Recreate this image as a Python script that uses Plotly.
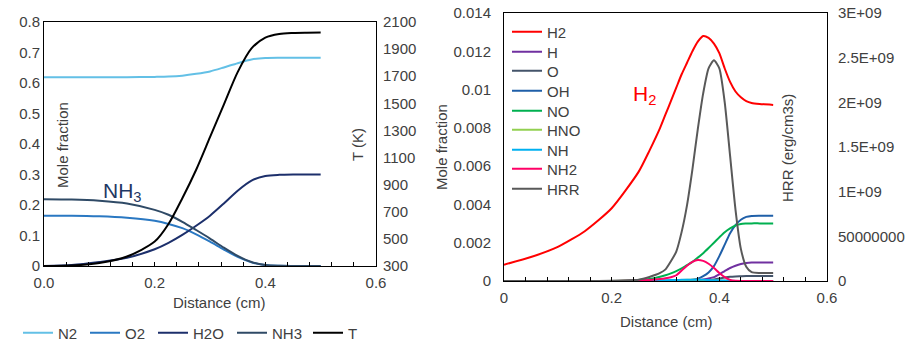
import plotly.graph_objects as go

# ---------------- Left chart data ----------------
dist_left = [0, 0.05, 0.1, 0.15, 0.2, 0.225, 0.25, 0.275, 0.3, 0.325, 0.35, 0.375, 0.4, 0.425, 0.45, 0.475, 0.5]
n2 = [0.619, 0.619, 0.619, 0.619, 0.620, 0.621, 0.624, 0.630, 0.638, 0.651, 0.665, 0.677, 0.682, 0.683, 0.683, 0.683, 0.683]
o2 = [0.165, 0.165, 0.163, 0.158, 0.148, 0.138, 0.124, 0.104, 0.080, 0.054, 0.030, 0.012, 0.003, 0.0005, 0.0, 0.0, 0.0]
h2o = [0.0, 0.003, 0.013, 0.027, 0.055, 0.076, 0.102, 0.132, 0.165, 0.205, 0.247, 0.280, 0.295, 0.299, 0.300, 0.300, 0.300]
nh3 = [0.219, 0.218, 0.214, 0.205, 0.184, 0.168, 0.145, 0.118, 0.090, 0.060, 0.033, 0.013, 0.003, 0.0005, 0.0, 0.0, 0.0]
temp = [300, 303, 322, 370, 480, 610, 800, 1010, 1250, 1490, 1730, 1905, 1985, 2012, 2019, 2021, 2022]

# ---------------- Right chart data ----------------
dist_right = [0, 0.05, 0.1, 0.15, 0.2, 0.25, 0.27, 0.29, 0.3, 0.31, 0.32, 0.33, 0.34, 0.35, 0.36, 0.37,
              0.38, 0.39, 0.4, 0.41, 0.42, 0.43, 0.44, 0.45, 0.46, 0.475, 0.5]
h2 = [0.00085, 0.00125, 0.00178, 0.0026, 0.0038, 0.0057, 0.0068, 0.0080, 0.0087, 0.0094, 0.0101, 0.0108, 0.0114,
      0.0120, 0.0125, 0.0128, 0.0127, 0.0124, 0.0119, 0.0111, 0.0104, 0.0099, 0.0096, 0.0094, 0.0093, 0.00925, 0.0092]
h_rad = [0, 0, 0, 0, 0, 0, 0, 0, 0, 0, 0, 0, 0.00001, 0.00002, 0.00004, 0.00008,
         0.00013, 0.0002, 0.00035, 0.00052, 0.00068, 0.0008, 0.00089, 0.00094, 0.00096, 0.00096, 0.00096]
o_rad = [0, 0, 0, 0, 0, 0, 0, 0, 0, 0, 0, 0, 0, 0, 0.00001, 0.00002,
         0.00004, 0.00008, 0.00013, 0.00018, 0.00022, 0.00024, 0.00025, 0.00026, 0.00026, 0.00026, 0.00026]
oh = [0, 0, 0, 0, 0, 0, 0, 0, 0, 0, 0, 0.00001, 0.00003, 0.00006, 0.00012, 0.00025,
      0.00045, 0.00078, 0.0013, 0.0019, 0.0025, 0.00292, 0.0032, 0.00335, 0.0034, 0.00341, 0.00341]
no = [0, 0, 0, 0, 0, 0.00005, 0.0001, 0.00022, 0.0003, 0.0004, 0.00052, 0.00066, 0.00083, 0.001, 0.00122, 0.00145,
      0.00172, 0.002, 0.00228, 0.00255, 0.00275, 0.0029, 0.00298, 0.003, 0.00301, 0.00301, 0.00301]
hno = [0, 0, 0, 0, 0, 0, 0, 0.00001, 0.00002, 0.00003, 0.00004, 0.00005, 0.00006, 0.00006, 0.00006, 0.00005,
       0.00004, 0.00003, 0.00002, 0.00001, 0.000005, 0, 0, 0, 0, 0, 0]
nh = [0, 0, 0, 0, 0, 0.00001, 0.00002, 0.00003, 0.00004, 0.00005, 0.00005, 0.00006, 0.00006, 0.00006, 0.00006, 0.00006,
      0.00005, 0.00004, 0.00003, 0.00002, 0.00001, 0, 0, 0, 0, 0, 0]
nh2 = [0, 0, 0, 0, 0, 0.00002, 0.00005, 0.0001, 0.00014, 0.0002, 0.0003, 0.00055, 0.0008, 0.001, 0.0011, 0.00105,
       0.0009, 0.00068, 0.00042, 0.0002, 0.00006, 0.00001, 0, 0, 0, 0, 0]
hrr = [0, 0, 0, 0, 0.003e9, 0.015e9, 0.045e9, 0.09e9, 0.13e9, 0.22e9, 0.33e9, 0.55e9, 0.85e9, 1.25e9, 1.7e9, 2.1e9,
       2.38e9, 2.47e9, 2.38e9, 2.0e9, 1.4e9, 0.8e9, 0.36e9, 0.16e9, 0.1e9, 0.09e9, 0.09e9]

# tick labels
x_ticks = [0, 0.2, 0.4, 0.6]
mole_right_vals = [0, 0.002, 0.004, 0.006, 0.008, 0.01, 0.012, 0.014]
mole_right_text = ["0", "0.002", "0.004", "0.006", "0.008", "0.01", "0.012", "0.014"]
hrr_vals = [0, 0.5e9, 1e9, 1.5e9, 2e9, 2.5e9, 3e9]
hrr_text = ["0", "50000000", "1E+09", "1.5E+09", "2E+09", "2.5E+09", "3E+09"]

FONT = "Arial, Liberation Sans, sans-serif"
TXT = "#404040"
W, H = 911, 347


def px_x(p):
    return p / W


def px_y(p):
    return 1 - p / H


def single_legend(x, y):
    return dict(orientation="v", x=px_x(x), y=px_y(y), xanchor="left", yanchor="middle",
                font=dict(family=FONT, size=15, color=TXT), bgcolor="rgba(0,0,0,0)", borderwidth=0)


fig = go.Figure()
legend_layouts = {}

left_series = [("N2", n2, "#63c0e6", "y"), ("O2", o2, "#2a78c2", "y"), ("H2O", h2o, "#1c2f6b", "y"),
               ("NH3", nh3, "#2f4a66", "y"), ("T", temp, "#000000", "y2")]
left_legend_x = [18, 85, 153, 232, 308]
for i, (name, ys, col, yax) in enumerate(left_series):
    lg = "legend" if i == 0 else "legend%d" % (i + 1)
    fig.add_trace(go.Scatter(x=dist_left, y=ys, name=name, mode="lines",
                             line=dict(color=col, width=2, shape="spline", smoothing=0.8),
                             xaxis="x", yaxis=yax, legend=lg))
    legend_layouts[lg] = single_legend(left_legend_x[i], 333)

right_series = [("H2", h2, "#ff0000", "y3"), ("H", h_rad, "#7030a0", "y3"), ("O", o_rad, "#44546a", "y3"),
                ("OH", oh, "#1f5fa8", "y3"), ("NO", no, "#00b050", "y3"), ("HNO", hno, "#92d050", "y3"),
                ("NH", nh, "#00b0f0", "y3"), ("NH2", nh2, "#ff0066", "y3"), ("HRR", hrr, "#595959", "y4")]
right_legend_rows = [33, 53, 72, 92, 112, 131, 151, 170, 190]
for i, (name, ys, col, yax) in enumerate(right_series):
    lg = "legend%d" % (i + 6)
    fig.add_trace(go.Scatter(x=dist_right, y=ys, name=name, mode="lines",
                             line=dict(color=col, width=2, shape="spline", smoothing=0.6),
                             xaxis="x2", yaxis=yax, legend=lg))
    legend_layouts[lg] = single_legend(507, right_legend_rows[i] - 1)

axis_common = dict(showgrid=False, zeroline=False, showline=True, linecolor="#000000", linewidth=1,
                   automargin=False, tickfont=dict(family=FONT, size=15, color=TXT))

fig.update_layout(
    width=W, height=H,
    margin=dict(l=0, r=0, t=0, b=0, autoexpand=False),
    paper_bgcolor="white", plot_bgcolor="white",
    font=dict(family=FONT, size=15, color=TXT),
    xaxis=dict(domain=[px_x(44), px_x(376)], anchor="y", range=[0, 0.6], tickvals=x_ticks, tickformat=".1f",
               ticks="inside", ticklen=4, tickcolor="#000000", mirror=True, ticklabelstandoff=3,
               minor=dict(dtick=0.04, tick0=0, ticks="inside", ticklen=4, tickcolor="#000000"), **axis_common),
    yaxis=dict(domain=[px_y(266), px_y(22)], anchor="x", range=[0, 0.8], dtick=0.1, ticks="", **axis_common),
    yaxis2=dict(overlaying="y", anchor="x", side="right", range=[300, 2100], dtick=200, tick0=300, ticks="",
                ticklabelstandoff=3, **axis_common),
    xaxis2=dict(domain=[px_x(504), px_x(827)], anchor="y3", range=[0, 0.6], tickvals=x_ticks,
                ticks="inside", ticklen=4, tickcolor="#000000", mirror=True, ticklabelstandoff=3,
                minor=dict(dtick=0.04, tick0=0, ticks="inside", ticklen=4, tickcolor="#000000"), **axis_common),
    yaxis3=dict(domain=[px_y(281), px_y(13)], anchor="x2", range=[0, 0.014], tickvals=mole_right_vals,
                ticktext=mole_right_text, ticks="", ticklabelstandoff=9, **axis_common),
    yaxis4=dict(overlaying="y3", anchor="x2", side="right", range=[0, 3e9], tickvals=hrr_vals, ticktext=hrr_text,
                ticks="", ticklabelstandoff=7, **axis_common),
    showlegend=True,
    **legend_layouts,
)

ann = [
    dict(text="Mole fraction", x=px_x(62), y=px_y(145), textangle=-90, font=dict(size=15, color=TXT)),
    dict(text="T (K)", x=px_x(357), y=px_y(145), textangle=-90, font=dict(size=15, color=TXT)),
    dict(text="Distance (cm)", x=px_x(219), y=px_y(302), font=dict(size=15, color=TXT)),
    dict(text="NH<sub>3</sub>", x=px_x(101), y=px_y(192), xanchor="left", font=dict(size=21, color="#1f3864")),
    dict(text="Mole fraction", x=px_x(441), y=px_y(147), textangle=-90, font=dict(size=15, color=TXT)),
    dict(text="HRR (erg/cm3s)", x=px_x(788), y=px_y(148), textangle=-90, font=dict(size=15, color=TXT)),
    dict(text="Distance (cm)", x=px_x(666), y=px_y(321), font=dict(size=15, color=TXT)),
    dict(text="H<sub>2</sub>", x=px_x(631), y=px_y(95), xanchor="left", font=dict(size=21, color="#ff0000")),
]
for a in ann:
    a.setdefault("xanchor", "center")
    a.update(xref="paper", yref="paper", showarrow=False, yanchor="middle")
    a["font"]["family"] = FONT
fig.update_layout(annotations=ann)

fig.write_html("out.html", config={"displayModeBar": False},
               post_script="document.body.style.margin='0';document.body.style.overflow='hidden';")
